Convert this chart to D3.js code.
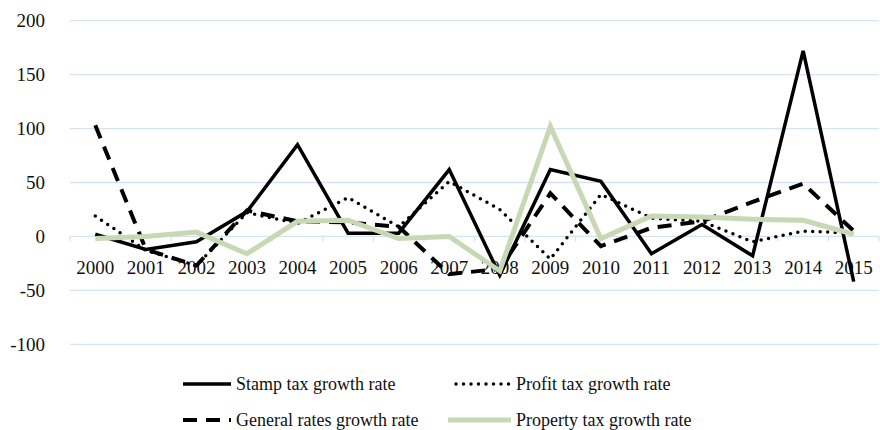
<!DOCTYPE html>
<html>
<head>
<meta charset="utf-8">
<script src="https://cdn.jsdelivr.net/npm/d3@7"></script>
<style>
  body { margin: 0; background: #fff; }
  svg { display: block; font-family: "Liberation Serif", "Times New Roman", serif; }
</style>
</head>
<body>
<svg id="chart" width="880" height="430"></svg>
<script>
// chart data
var years = ['2000', '2001', '2002', '2003', '2004', '2005', '2006', '2007',
  '2008', '2009', '2010', '2011', '2012', '2013', '2014', '2015'];
var stampTax = [2, -12, -5, 23, 85, 3, 3, 62, -36, 62, 51, -16, 11, -18, 172, -42];
var profitTax = [19, -13, -27, 22, 12, 36, 9, 51, 25, -21, 39, 17, 14, -5, 5, 3];
var generalRates = [103, -12, -27, 24, 14, 13, 9, -35, -30, 40, -9, 8, 14, 32, 49, 5];
var propertyTax = [-2, 0, 4, -16, 14, 15, -2, 0, -32, 102, -2, 19, 18, 16, 15, 2];
var yTicks = [-100, -50, 0, 50, 100, 150, 200];

var series = [
  { name: 'Stamp tax growth rate', values: stampTax, color: '#000', width: 3.5, dash: null, cap: 'butt' },
  { name: 'Profit tax growth rate', values: profitTax, color: '#000', width: 3.5, dash: '0,7.5', cap: 'round' },
  { name: 'General rates growth rate', values: generalRates, color: '#000', width: 4, dash: '14,9', cap: 'butt' },
  { name: 'Property tax growth rate', values: propertyTax, color: '#c8d8b5', width: 5, dash: null, cap: 'butt' }
];

var svg = d3.select('#chart');
var gridColor = '#d5e2f3';

var x = d3.scaleBand().domain(years).range([70, 879]).padding(0);
var y = d3.scaleLinear().domain([-100, 200]).range([344.3, 20.7]);

// gridlines
svg.append('g')
  .selectAll('line')
  .data(yTicks)
  .enter()
  .append('line')
  .attr('x1', 70)
  .attr('x2', 879)
  .attr('y1', d => y(d))
  .attr('y2', d => y(d))
  .attr('stroke', gridColor)
  .attr('stroke-width', 1.3);

// y labels
svg.append('g')
  .selectAll('text')
  .data(yTicks)
  .enter()
  .append('text')
  .attr('x', 45)
  .attr('y', d => y(d))
  .attr('dy', '0.35em')
  .attr('text-anchor', 'end')
  .attr('font-size', 19)
  .attr('fill', '#111')
  .text(d => d);

// category ticks on the zero line
var bounds = years.map(d => x(d)).concat([x.range()[1]]);
svg.append('g')
  .selectAll('line')
  .data(bounds)
  .enter()
  .append('line')
  .attr('x1', d => d)
  .attr('x2', d => d)
  .attr('y1', y(0))
  .attr('y2', y(0) + 5)
  .attr('stroke', gridColor)
  .attr('stroke-width', 1.3);

// x labels sit just under the zero line
svg.append('g')
  .selectAll('text')
  .data(years)
  .enter()
  .append('text')
  .attr('x', d => x(d) + x.bandwidth() / 2)
  .attr('y', y(0) + 38)
  .attr('text-anchor', 'middle')
  .attr('font-size', 19)
  .attr('fill', '#111')
  .text(d => d);

var line = d3.line()
  .x((d, i) => x(years[i]) + x.bandwidth() / 2)
  .y(d => y(d));

svg.append('g')
  .selectAll('path')
  .data(series)
  .enter()
  .append('path')
  .attr('d', d => line(d.values))
  .attr('fill', 'none')
  .attr('stroke', d => d.color)
  .attr('stroke-width', d => d.width)
  .attr('stroke-dasharray', d => d.dash)
  .attr('stroke-linecap', d => d.cap)
  .attr('stroke-linejoin', 'miter');

// legend, two rows of two
var legendPos = [
  { lx: 183, tx: 236, ly: 384 },
  { lx: 456, tx: 516, ly: 384 },
  { lx: 183, tx: 236, ly: 420 },
  { lx: 448, tx: 516, ly: 420 }
];
var legend = svg.append('g')
  .selectAll('g')
  .data(series)
  .enter()
  .append('g');

legend.append('line')
  .attr('x1', (d, i) => legendPos[i].lx)
  .attr('x2', (d, i) => legendPos[i].tx - 5)
  .attr('y1', (d, i) => legendPos[i].ly)
  .attr('y2', (d, i) => legendPos[i].ly)
  .attr('stroke', d => d.color)
  .attr('stroke-width', d => d.width)
  .attr('stroke-dasharray', d => d.dash)
  .attr('stroke-linecap', d => d.cap);

legend.append('text')
  .attr('x', (d, i) => legendPos[i].tx)
  .attr('y', (d, i) => legendPos[i].ly)
  .attr('dy', '0.35em')
  .attr('font-size', 18)
  .attr('fill', '#111')
  .text(d => d.name);
</script>
</body>
</html>
